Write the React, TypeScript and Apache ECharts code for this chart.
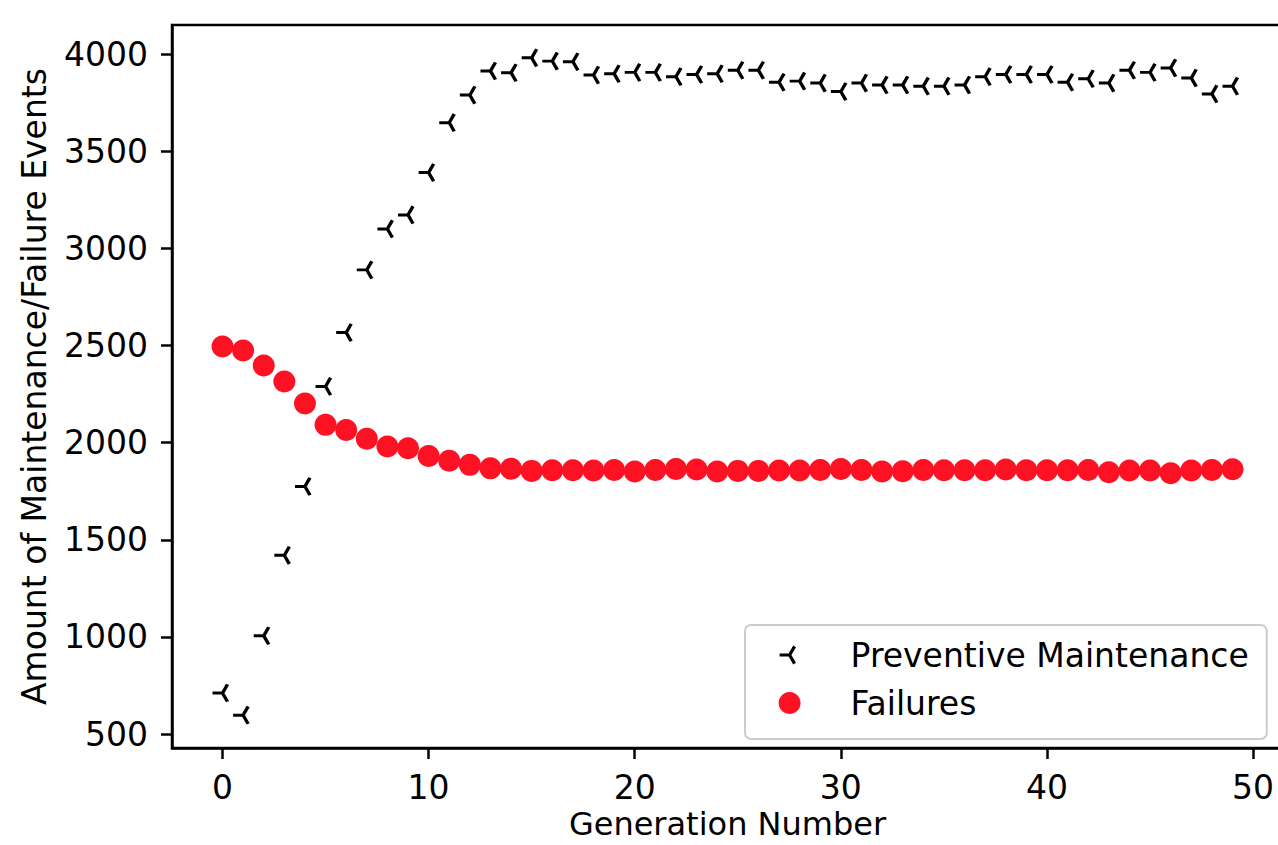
import React, { useEffect, useRef } from "react";
import * as echarts from "echarts";

const generations = [
  0, 1, 2, 3, 4, 5, 6, 7, 8, 9, 10, 11, 12, 13, 14, 15, 16, 17, 18, 19, 20, 21, 22, 23, 24,
  25, 26, 27, 28, 29, 30, 31, 32, 33, 34, 35, 36, 37, 38, 39, 40, 41, 42, 43, 44, 45, 46, 47, 48, 49,
];

const preventiveMaintenance = [
  711, 597, 1006, 1420, 1775, 2290, 2567, 2890, 3101, 3173, 3391, 3648, 3790, 3914, 3905, 3982,
  3965, 3962, 3893, 3900, 3907, 3907, 3885, 3896, 3900, 3918, 3918, 3856, 3862, 3852, 3808, 3852,
  3842, 3842, 3836, 3836, 3842, 3885, 3896, 3896, 3896, 3856, 3874, 3852, 3918, 3907, 3930, 3878,
  3796, 3836,
];

const failures = [
  2495, 2475, 2398, 2315, 2202, 2092, 2066, 2020, 1981, 1972, 1932, 1907, 1886, 1868, 1866, 1855,
  1858, 1858, 1857, 1860, 1852, 1860, 1865, 1862, 1852, 1855, 1855, 1857, 1857, 1860, 1865, 1860,
  1852, 1853, 1860, 1858, 1858, 1858, 1862, 1858, 1858, 1858, 1860, 1848, 1857, 1857, 1843, 1857,
  1860, 1863,
];

const xTicks = [0, 10, 20, 30, 40, 50];
const yTicks = [500, 1000, 1500, 2000, 2500, 3000, 3500, 4000];

const seriesNames = ["Preventive Maintenance", "Failures"];

const FONT = "DejaVu Sans";
const triLeft = "path://M0 0L-1 0M0 0L0.5 0.866M0 0L0.5 -0.866M1 0";
const triLeftLegend = "path://M0 0L-1 0M0 0L0.5 0.866M0 0L0.5 -0.866M1.2 1.1M-1.2 -1.1";

export default function App() {
  const ref = useRef<HTMLDivElement>(null);

  useEffect(() => {
    if (!ref.current) return;
    const chart = echarts.init(ref.current, null, { renderer: "svg" });
    const pmData = generations.map((g, i) => [g, preventiveMaintenance[i]]);
    const fData = generations.map((g, i) => [g, failures[i]]);

    chart.setOption({
      animation: false,
      backgroundColor: "#fff",
      textStyle: { fontFamily: FONT },
      grid: {
        left: 172,
        top: 25,
        width: 1111,
        height: 723,
        show: true,
        borderColor: "#000",
        borderWidth: 2.5,
        backgroundColor: "transparent",
        containLabel: false,
        outerBoundsMode: "none",
      },
      xAxis: {
        type: "value",
        min: -2.45,
        max: 51.45,
        name: "Generation Number",
        nameLocation: "middle",
        nameGap: 61,
        nameMoveOverlap: false,
        nameTextStyle: { fontSize: 32, lineHeight: 30, color: "#000", fontFamily: FONT },
        axisLine: { show: true, onZero: false, lineStyle: { color: "#000", width: 2.5 } },
        axisTick: { show: true, length: 11, lineStyle: { color: "#000", width: 2.5 }, customValues: xTicks },
        axisLabel: {
          fontSize: 33,
          color: "#000",
          margin: 23,
          fontFamily: FONT,
          customValues: xTicks,
          formatter: (v: number) => String(v),
        },
        splitLine: { show: false },
      },
      yAxis: {
        type: "value",
        min: 428,
        max: 4151,
        name: "Amount of Maintenance/Failure Events",
        nameLocation: "middle",
        nameRotate: 90,
        nameGap: 121,
        nameTextStyle: { fontSize: 33, color: "#000", fontFamily: FONT },
        axisLine: { show: true, onZero: false, lineStyle: { color: "#000", width: 2.5 } },
        axisTick: { show: true, length: 11, lineStyle: { color: "#000", width: 2.5 }, customValues: yTicks },
        axisLabel: {
          fontSize: 33,
          color: "#000",
          margin: 24,
          fontFamily: FONT,
          customValues: yTicks,
          formatter: (v: number) => String(v),
        },
        splitLine: { show: false },
      },
      legend: {
        orient: "vertical",
        left: 745,
        top: 625,
        padding: [11, 18, 17, 31],
        itemWidth: 30,
        itemHeight: 22,
        itemGap: 10,
        selectedMode: false,
        backgroundColor: "rgba(255,255,255,0.8)",
        borderColor: "#cccccc",
        borderWidth: 2,
        borderRadius: 6,
        textStyle: { fontSize: 33, color: "#000", fontFamily: FONT, lineHeight: 38, padding: [0, 0, 0, 41] },
        data: [
          {
            name: seriesNames[0],
            icon: triLeftLegend,
            itemStyle: { color: "transparent", borderColor: "#000", borderWidth: 3.2, opacity: 1 },
          },
          { name: seriesNames[1], icon: "circle", itemStyle: { borderWidth: 0, opacity: 1 } },
        ],
      },
      series: [
        {
          name: seriesNames[0],
          type: "scatter",
          data: pmData,
          symbol: triLeft,
          symbolSize: [20, 17.32],
          itemStyle: { color: "transparent", borderColor: "#000", borderWidth: 3.2, opacity: 1 },
          emphasis: { disabled: true },
        },
        {
          name: seriesNames[1],
          type: "scatter",
          data: fData,
          symbol: "circle",
          symbolSize: 22,
          itemStyle: { color: "#fe1123", borderWidth: 0, opacity: 1 },
          emphasis: { disabled: true },
        },
      ],
    });
    return () => chart.dispose();
  }, []);

  return (
    <div
      style={{
        position: "fixed",
        left: 0,
        top: 0,
        width: 1278,
        height: 845,
        overflow: "hidden",
        background: "#fff",
      }}
    >
      <div ref={ref} style={{ width: 1300, height: 845 }} />
    </div>
  );
}
